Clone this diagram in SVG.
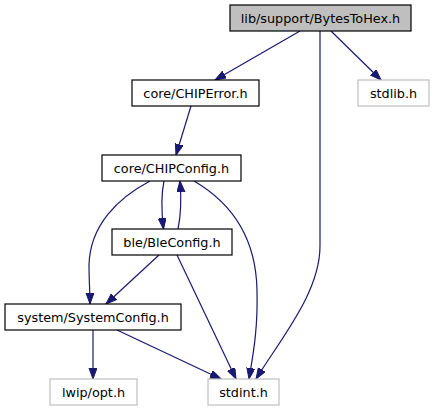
<svg xmlns="http://www.w3.org/2000/svg" width="434" height="411" viewBox="0 0 434 411">
<defs>
<style>
.n rect{fill:#ffffff;stroke:#000000;stroke-width:1.2}
.n.ext rect{stroke:#bfbfbf}
.n.cur rect{fill:#bfbfbf}
.n text{font-family:"DejaVu Sans",sans-serif;font-size:12.8px;fill:#000000;text-anchor:middle}
.e path{fill:none;stroke:#191970;stroke-width:1.2;marker-end:url(#ah)}
</style>
<marker id="ah" markerUnits="userSpaceOnUse" markerWidth="12" markerHeight="10" refX="11" refY="4" orient="auto">
<path d="M0,0 L11,4 L0,8 z" fill="#191970" stroke="#191970" stroke-width="1"/>
</marker>
</defs>
<rect width="434" height="411" fill="#ffffff"/>
<g id="edges" class="e">
<path d="M300,31 L215,80"/>
<path d="M331,31 L381,80"/>
<path d="M320,31 L320,246 C320,292 282,337 256,379"/>
<path d="M191,106 L176,155"/>
<path d="M164,181 C161,195 161,208 163.5,229"/>
<path d="M178,229 C181,215 181.5,200 180,181"/>
<path d="M150,181 C118,198 90,225 89,265 C89,280 90,293 90,304"/>
<path d="M194,181 C235,205 256,240 257,290 C258,330 253,355 249,379"/>
<path d="M159,255 L106,304"/>
<path d="M177,255 L236,379"/>
<path d="M93,330 L93,379"/>
<path d="M117,330 L221,379"/>
</g>
<g id="n_bytestohex" class="n cur"><rect x="230" y="5" width="181" height="26"/><text x="320.5" y="22.7">lib/support/BytesToHex.h</text></g>
<g id="n_chiperror" class="n"><rect x="132" y="80" width="127" height="26"/><text x="195.5" y="97.7">core/CHIPError.h</text></g>
<g id="n_stdlib" class="n ext"><rect x="358" y="80" width="71" height="26"/><text x="393.5" y="97.7">stdlib.h</text></g>
<g id="n_chipconfig" class="n"><rect x="102" y="155" width="139" height="26"/><text x="171.5" y="172.7">core/CHIPConfig.h</text></g>
<g id="n_bleconfig" class="n"><rect x="112" y="229" width="120" height="26"/><text x="172" y="246.7">ble/BleConfig.h</text></g>
<g id="n_systemconfig" class="n"><rect x="5" y="304" width="176" height="26"/><text x="93" y="321.7">system/SystemConfig.h</text></g>
<g id="n_lwipopt" class="n ext"><rect x="50" y="379" width="87" height="26"/><text x="93.5" y="396.7">lwip/opt.h</text></g>
<g id="n_stdint" class="n ext"><rect x="208" y="379" width="71" height="26"/><text x="243.5" y="396.7">stdint.h</text></g>
</svg>
